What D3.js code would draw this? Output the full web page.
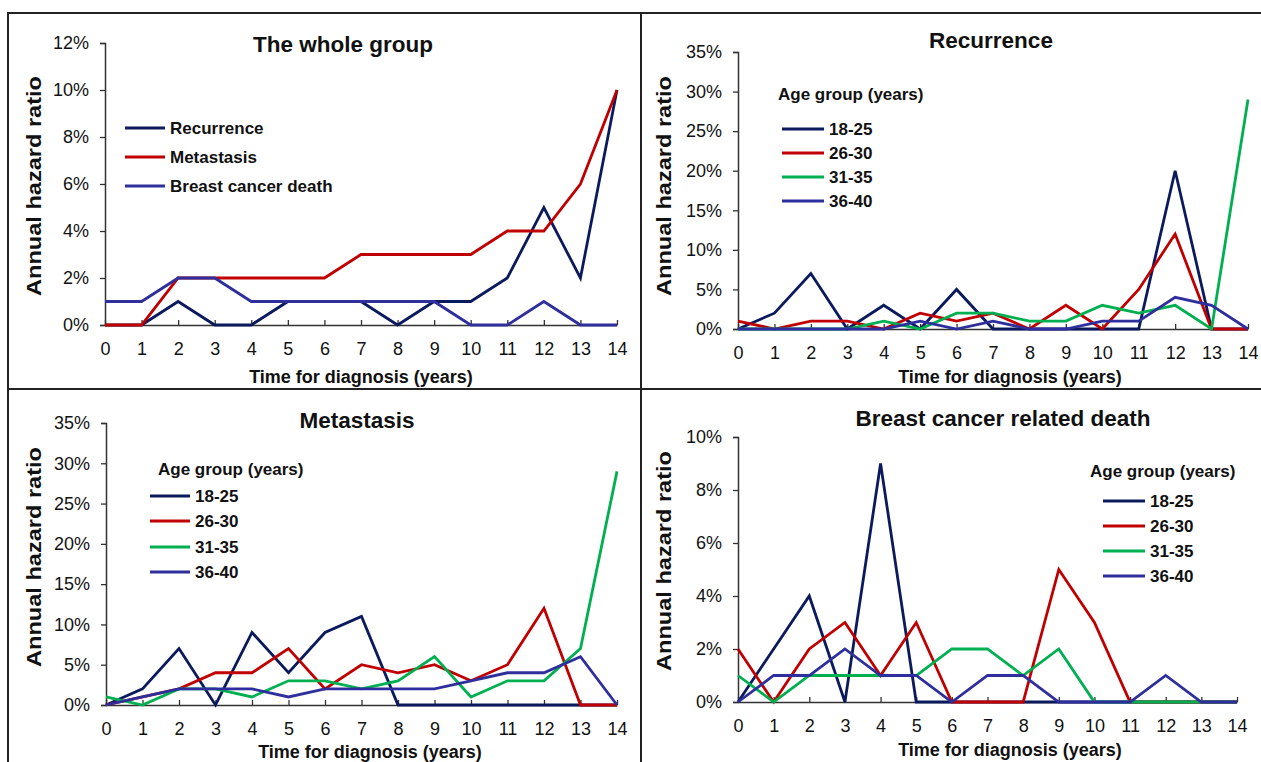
<!DOCTYPE html>
<html><head><meta charset="utf-8">
<script src="https://cdn.jsdelivr.net/npm/d3@7"></script>
<style>
body{margin:0;background:#fff;}
svg{display:block;font-family:"Liberation Sans",Arial,sans-serif;}
</style></head>
<body><svg id="c" width="1261" height="762"></svg>
<script>
// ---- data ----
const years = [0,1,2,3,4,5,6,7,8,9,10,11,12,13,14];

const wholeNames = ["Recurrence","Metastasis","Breast cancer death"];
const wholeRecurrence = [0,0,1,0,0,1,1,1,0,1,1,2,5,2,10];
const wholeMetastasis = [0,0,2,2,2,2,2,3,3,3,3,4,4,6,10];
const wholeDeath      = [1,1,2,2,1,1,1,1,1,1,0,0,1,0,0];

const ageGroups = ["18-25","26-30","31-35","36-40"];
const recur18_25 = [0,2,7,0,3,0,5,0,0,0,0,0,20,0,0];
const recur26_30 = [1,0,1,1,0,2,1,2,0,3,0,5,12,0,0];
const recur31_35 = [0,0,0,0,1,0,2,2,1,1,3,2,3,0,29];
const recur36_40 = [0,0,0,0,0,1,0,1,0,0,1,1,4,3,0];

const meta18_25 = [0,2,7,0,9,4,9,11,0,0,0,0,0,0,0];
const meta26_30 = [0,1,2,4,4,7,2,5,4,5,3,5,12,0,0];
const meta31_35 = [1,0,2,2,1,3,3,2,3,6,1,3,3,7,29];
const meta36_40 = [0,1,2,2,2,1,2,2,2,2,3,4,4,6,0];

const death18_25 = [0,2,4,0,9,0,0,0,0,0,0,0,0,0,0];
const death26_30 = [2,0,2,3,1,3,0,0,0,5,3,0,0,0,0];
const death31_35 = [1,0,1,1,1,1,2,2,1,2,0,0,0,0,0];
const death36_40 = [0,1,1,2,1,1,0,1,1,0,0,0,1,0,0];

const ticks12 = [0,2,4,6,8,10,12];
const ticks35 = [0,5,10,15,20,25,30,35];
const ticks10 = [0,2,4,6,8,10];

const titles = ["The whole group","Recurrence","Metastasis","Breast cancer related death"];
const xTitle = "Time for diagnosis (years)";
const yTitle = "Annual hazard ratio";
const legendHeader = "Age group (years)";

// ---- styles ----
const cNavy="#0b1a5c", cRed="#c00000", cGreen="#00b050", cBlue="#2e2f9c";
const ageColors=[cNavy,cRed,cGreen,cBlue];

const panels = [
  {title:titles[0], names:wholeNames, series:[wholeRecurrence,wholeMetastasis,wholeDeath], colors:[cNavy,cRed,cBlue],
   x:[105,617], y:[325,43], ticks:ticks12, titleX:343, titleY:52, xtX:361, xtY:383, ytX:41, ytY:186,
   legend:{header:null, lx:125, lw:40, tx:170, ys:[128,157,186]}},
  {title:titles[1], names:ageGroups, series:[recur18_25,recur26_30,recur31_35,recur36_40], colors:ageColors,
   x:[738,1248], y:[329,52], ticks:ticks35, titleX:991, titleY:48, xtX:1010, xtY:383, ytX:671, ytY:186,
   legend:{header:[778,100], lx:782, lw:42, tx:829, ys:[129,153,177,201]}},
  {title:titles[2], names:ageGroups, series:[meta18_25,meta26_30,meta31_35,meta36_40], colors:ageColors,
   x:[106,617], y:[705,423], ticks:ticks35, titleX:357, titleY:428, xtX:370, xtY:758, ytX:41, ytY:557,
   legend:{header:[158,475], lx:150, lw:40, tx:195, ys:[496,521,547,572]}},
  {title:titles[3], names:ageGroups, series:[death18_25,death26_30,death31_35,death36_40], colors:ageColors,
   x:[738,1237], y:[702,437], ticks:ticks10, titleX:1003, titleY:426, xtX:1010, xtY:756, ytX:671, ytY:561,
   legend:{header:[1090,477], lx:1103, lw:42, tx:1150, ys:[501,526,551,576]}}
];

const svg = d3.select("#c");

// frame
const frame = svg.append("g").attr("stroke","#222").attr("stroke-width",2).attr("fill","none");
frame.append("rect").attr("x",8).attr("y",13).attr("width",1270).attr("height",800);
frame.append("line").attr("x1",641).attr("x2",641).attr("y1",13).attr("y2",762);
frame.append("line").attr("x1",8).attr("x2",1261).attr("y1",389).attr("y2",389);

panels.forEach(p=>{
  const g = svg.append("g");
  const x = d3.scaleLinear().domain([years[0],years[years.length-1]]).range(p.x);
  const y = d3.scaleLinear().domain([p.ticks[0],p.ticks[p.ticks.length-1]]).range(p.y);

  // y axis
  const ya = g.append("g").attr("transform",`translate(${p.x[0]},0)`)
    .call(d3.axisLeft(y).tickValues(p.ticks).tickFormat(d=>d+"%").tickSizeOuter(0).tickSize(5).tickPadding(11));
  ya.select(".domain").attr("stroke","#333").attr("stroke-width",1.5);
  ya.selectAll(".tick line").attr("stroke","#333").attr("stroke-width",1.3);
  ya.selectAll("text").attr("font-size",18).attr("fill","#111").attr("font-family","Liberation Sans, Arial");

  // x axis (ticks pointing inward)
  const xa = g.append("g").attr("transform",`translate(0,${p.y[0]})`)
    .call(d3.axisBottom(x).tickValues(years).tickFormat(d=>d).tickSizeOuter(0).tickSizeInner(-5).tickPadding(17));
  xa.select(".domain").attr("stroke","#333").attr("stroke-width",1.5);
  xa.selectAll(".tick line").attr("stroke","#333").attr("stroke-width",1.3);
  xa.selectAll("text").attr("font-size",18).attr("fill","#111").attr("font-family","Liberation Sans, Arial");

  // lines
  const line = d3.line().x((d,i)=>x(years[i])).y(d=>y(d));
  p.series.forEach((s,k)=>{
    g.append("path").datum(s).attr("d",line).attr("fill","none")
      .attr("stroke",p.colors[k]).attr("stroke-width",2.8).attr("stroke-linejoin","miter");
  });

  // titles
  g.append("text").attr("x",p.titleX).attr("y",p.titleY).attr("text-anchor","middle")
    .attr("font-size",22.5).attr("font-weight","bold").attr("fill","#111").text(p.title);
  g.append("text").attr("x",p.xtX).attr("y",p.xtY).attr("text-anchor","middle")
    .attr("font-size",18).attr("font-weight","bold").attr("fill","#111").text(xTitle);
  g.append("text").attr("transform",`translate(${p.ytX},${p.ytY}) rotate(-90)`).attr("text-anchor","middle")
    .attr("font-size",19.5).attr("font-weight","bold").attr("fill","#111")
    .attr("textLength",220).attr("lengthAdjust","spacingAndGlyphs").text(yTitle);

  // legend
  const L = p.legend;
  if(L.header){
    g.append("text").attr("x",L.header[0]).attr("y",L.header[1])
      .attr("font-size",17).attr("font-weight","bold").attr("fill","#111").text(legendHeader);
  }
  p.names.forEach((n,k)=>{
    g.append("line").attr("x1",L.lx).attr("x2",L.lx+L.lw).attr("y1",L.ys[k]).attr("y2",L.ys[k])
      .attr("stroke",p.colors[k]).attr("stroke-width",2.8);
    g.append("text").attr("x",L.tx).attr("y",L.ys[k]+6)
      .attr("font-size",17).attr("font-weight","bold").attr("fill","#111").text(n);
  });
});
</script></body></html>
